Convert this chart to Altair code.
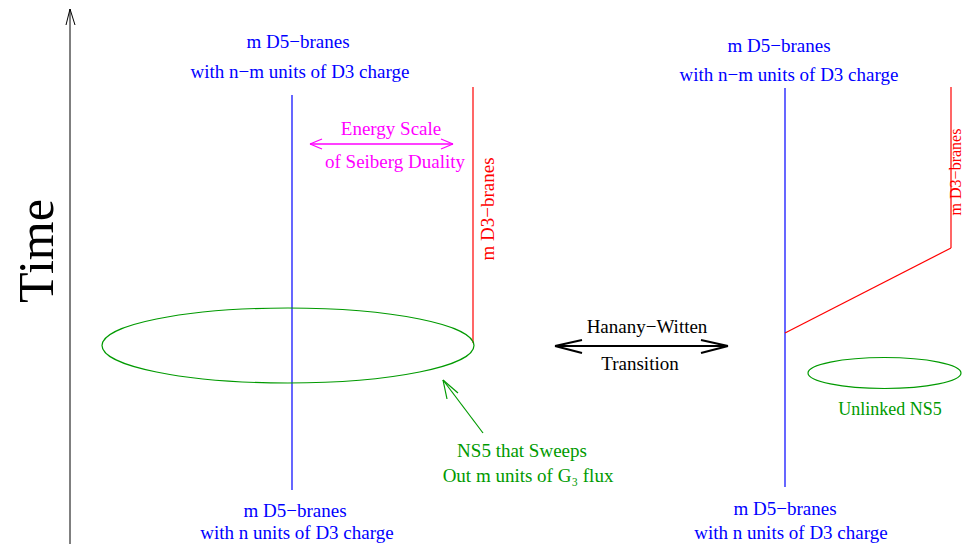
import altair as alt
import pandas as pd

# ---------------- data ----------------
# line segments (reference pixel coordinates of the diagram)
seg_x1 = [70, 70, 70, 292, 473, 310, 310, 310, 453, 453, 483, 443, 443, 555, 555, 555, 728, 728, 785, 785, 951]
seg_y1 = [552, 9, 9, 95, 87, 144, 144, 144, 144, 144, 433, 380, 380, 346, 346, 346, 346, 346, 88, 333, 248]
seg_x2 = [70, 66, 75, 292, 473, 453, 322, 322, 441, 441, 443, 447, 458, 728, 582, 582, 701, 701, 785, 951, 951]
seg_y2 = [9, 25, 25, 490, 343, 144, 139, 149, 139, 149, 380, 399, 393, 346, 340, 353, 340, 353, 487, 248, 87]
seg_col = ["#000000"] * 3 + ["#0000ff", "#ff0000"] + ["#ff00ff"] * 5 + ["#009a00"] * 3 + ["#000000"] * 5 + ["#0000ff", "#ff0000", "#ff0000"]
seg_w = [1, 1, 1, 1.2, 1.2, 1.3, 1.3, 1.3, 1.3, 1.3, 1.2, 1.2, 1.2, 2, 2, 2, 2, 2, 1.2, 1.2, 1.2]

# ellipses (NS5 branes)
ell_cx = [288, 884.5]
ell_cy = [345.5, 373]
ell_rx = [186, 76.5]
ell_ry = [37.5, 15.5]
ell_col = ["#009a00", "#009a00"]

# text labels
txt_label = [
    "Time",
    "m D5\u2212branes", "with n\u2212m units of D3 charge",
    "Energy Scale", "of Seiberg Duality",
    "m D3\u2212branes",
    "NS5 that Sweeps", "Out m units of G\u2083  flux",
    "m D5\u2212branes", "with n units of D3 charge",
    "Hanany\u2212Witten", "Transition",
    "m D5\u2212branes", "with n\u2212m units of D3 charge",
    "m D3\u2212branes",
    "Unlinked NS5",
    "m D5\u2212branes", "with n units of D3 charge",
]
txt_x = [52.5, 298, 300, 391, 395, 494, 522, 528, 295, 297, 647, 640, 779, 789, 961, 890, 785, 791]
txt_y = [251, 42, 72, 129, 162, 209, 451, 476, 511, 533, 327, 364, 46, 75, 172, 410, 509, 533]
txt_col = ["#000000", "#0000ff", "#0000ff", "#ff00ff", "#ff00ff", "#ff0000",
           "#009a00", "#009a00", "#0000ff", "#0000ff", "#000000", "#000000",
           "#0000ff", "#0000ff", "#ff0000", "#009a00", "#0000ff", "#0000ff"]
txt_size = [50, 19, 19, 19, 19, 19, 19, 19, 19, 19, 19, 19, 19, 19, 16, 18, 19, 19]
txt_angle = [270, 0, 0, 0, 0, 270, 0, 0, 0, 0, 0, 0, 0, 0, 270, 0, 0, 0]
txt_base = ["alphabetic", "middle", "middle", "middle", "middle", "alphabetic",
            "middle", "middle", "middle", "middle", "middle", "middle",
            "middle", "middle", "alphabetic", "middle", "middle", "middle"]

# ---------------- tables ----------------
segs = pd.DataFrame(dict(x=seg_x1, y=seg_y1, x2=seg_x2, y2=seg_y2, c=seg_col, w=seg_w))
ells = pd.DataFrame(dict(x=ell_cx, y=ell_cy, c=ell_col))
ells["s"] = [(2 * r) ** 2 for r in ell_rx]
ells["shape"] = [
    "M-1,0A1,{r:.4f},0,1,0,1,0A1,{r:.4f},0,1,0,-1,0".format(r=ry / rx)
    for rx, ry in zip(ell_rx, ell_ry)
]
txts = pd.DataFrame(dict(t=txt_label, x=txt_x, y=txt_y, c=txt_col, fs=txt_size, a=txt_angle, b=txt_base))

W, H = 955, 536
xs = alt.Scale(domain=[8, 8 + W], nice=False, zero=False)
ys = alt.Scale(domain=[8, 8 + H], nice=False, zero=False, reverse=True)

rules = alt.Chart(segs).mark_rule().encode(
    x=alt.X("x:Q", scale=xs, axis=None),
    y=alt.Y("y:Q", scale=ys, axis=None),
    x2="x2:Q",
    y2="y2:Q",
    color=alt.Color("c:N", scale=None),
    strokeWidth=alt.StrokeWidth("w:Q", scale=None),
)

ellipses = alt.Chart(ells).mark_point(filled=False, strokeWidth=1.2, opacity=1).encode(
    x=alt.X("x:Q", scale=xs, axis=None),
    y=alt.Y("y:Q", scale=ys, axis=None),
    color=alt.Color("c:N", scale=None),
    size=alt.Size("s:Q", scale=None),
    shape=alt.Shape("shape:N", scale=None),
)


def text_layer(base):
    d = txts[txts["b"] == base]
    return alt.Chart(d).mark_text(
        font="Liberation Serif", align="center", baseline=base
    ).encode(
        x=alt.X("x:Q", scale=xs, axis=None),
        y=alt.Y("y:Q", scale=ys, axis=None),
        text="t:N",
        color=alt.Color("c:N", scale=None),
        size=alt.Size("fs:Q", scale=None),
        angle=alt.Angle("a:Q", scale=None),
    )


chart = (
    alt.layer(rules, ellipses, text_layer("middle"), text_layer("alphabetic"))
    .properties(width=W, height=H, padding=0, autosize=alt.AutoSizeParams(type="none"),
                background="white")
    .configure_view(stroke=None)
)

chart.save("out.html", embed_options={"renderer": "svg", "actions": False})
